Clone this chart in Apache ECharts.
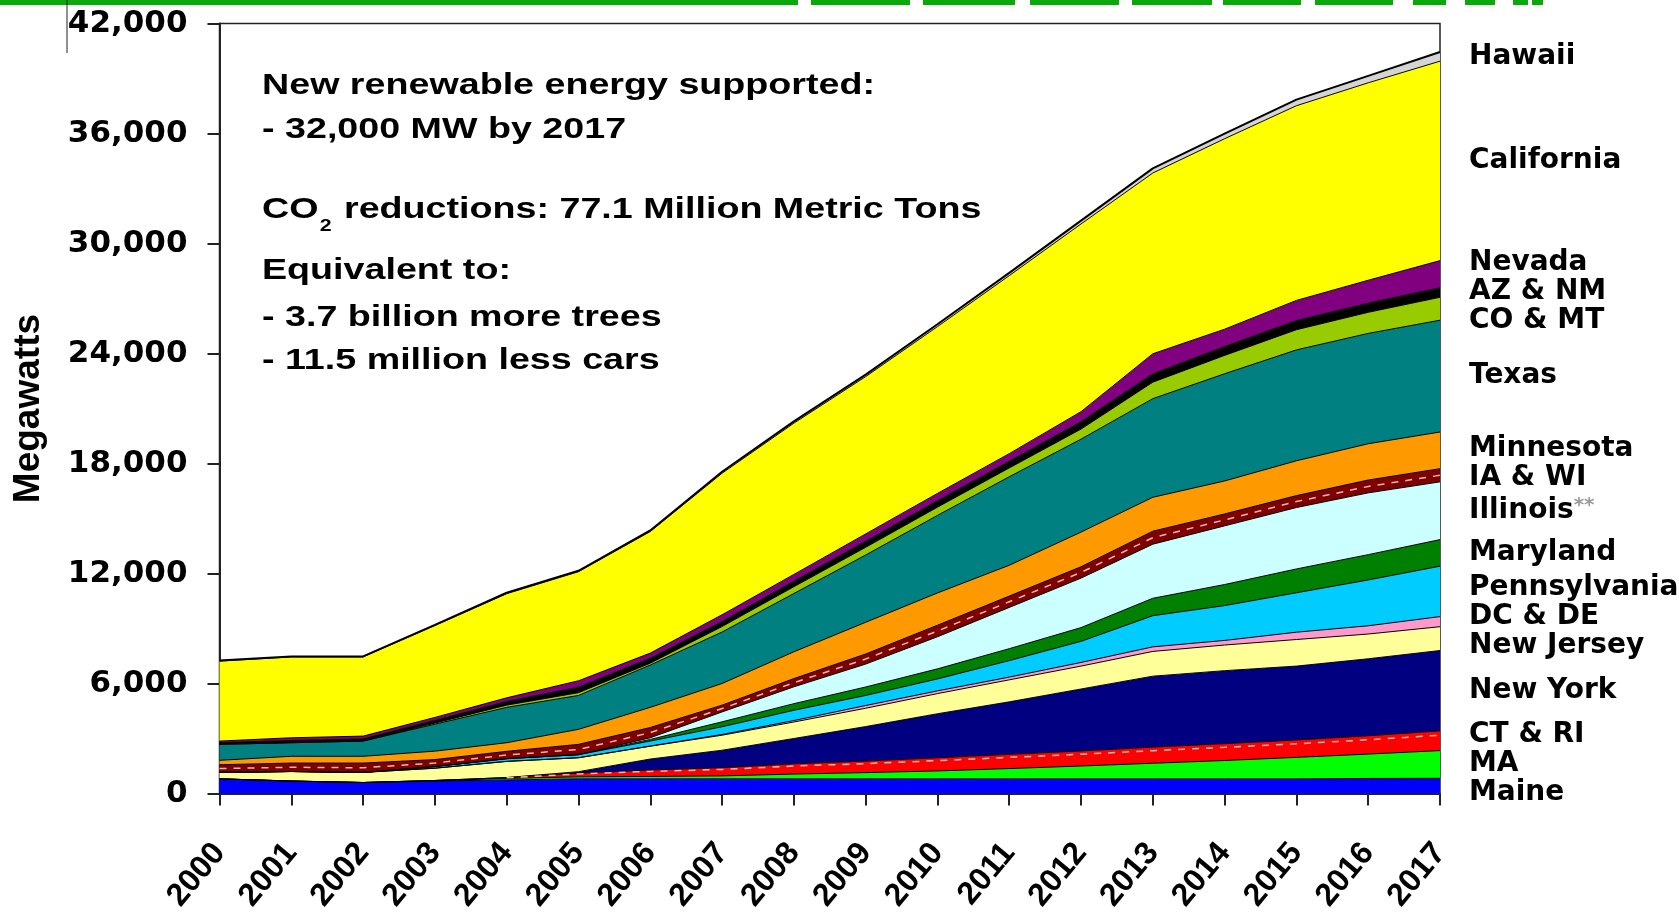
<!DOCTYPE html>
<html>
<head>
<meta charset="utf-8">
<script src="https://cdn.jsdelivr.net/npm/echarts@6/dist/echarts.min.js"></script>
<style>
html,body{margin:0;padding:0;background:#ffffff;}
#chart{width:1679px;height:920px;}
</style>
</head>
<body>
<div id="chart"></div>
<script>
// ---------------- DATA (MW per state, stacked) ----------------
const years = ['2000','2001','2002','2003','2004','2005','2006','2007','2008','2009','2010','2011','2012','2013','2014','2015','2016','2017'];

const maine        = [800,680,600,680,740,800,800,800,800,800,800,800,800,800,800,800,820,830];
const ma           = [0,0,0,30,80,110,130,160,260,340,430,560,700,850,1000,1170,1330,1510];
const ctRi         = [0,0,0,0,50,200,350,450,560,630,720,780,820,880,920,950,1000,1080];
const newYork      = [0,0,0,0,0,80,600,950,1380,1880,2400,2860,3380,3870,3980,4030,4200,4380];
const newJersey    = [350,520,550,670,880,760,700,820,900,1000,1100,1200,1250,1350,1400,1450,1350,1300];
const dcDe         = [0,0,0,0,0,0,10,40,80,150,150,150,200,250,250,400,450,550];
const pennsylvania = [0,0,0,90,150,170,270,420,560,550,650,900,1150,1700,1900,2150,2500,2750];
const maryland     = [0,0,0,0,0,0,90,270,360,460,550,650,750,950,1150,1300,1380,1450];
const illinois     = [0,0,0,0,0,0,90,540,920,1250,1750,2250,2700,2950,3200,3350,3370,3150];
const iaWi         = [420,460,510,380,400,560,560,370,450,550,630,620,620,710,650,650,700,720];
const minnesota    = [240,370,370,460,470,820,1100,1180,1460,1730,1760,1680,1890,1850,1800,1900,1980,2000];
const texas        = [870,740,830,1470,1930,1850,2310,2810,3180,3670,4230,4830,5070,5380,5850,6050,6020,6100];
const coMt         = [0,0,0,60,120,150,100,300,370,420,450,480,550,900,1000,1100,1150,1250];
const azNm         = [100,120,120,150,200,300,270,270,300,330,350,360,400,450,480,500,500,520];
const nevada       = [80,150,150,160,200,350,280,370,370,400,400,420,550,1100,950,1100,1250,1480];
const california   = [4360,4410,4320,5010,5680,5950,6630,7720,8250,8580,9100,9710,10240,9860,10390,10620,10770,10880];
const hawaii       = [30,30,30,40,50,50,60,80,100,110,130,150,180,250,280,330,380,500];

const stateNames = ['Maine','MA','CT & RI','New York','New Jersey','DC & DE','Pennsylvania','Maryland','Illinois**','IA & WI','Minnesota','Texas','CO & MT','AZ & NM','Nevada','California','Hawaii'];
const yMin = 0, yMax = 42000, yStep = 6000;

// ---------------- STYLE / LAYOUT ----------------
const W = 1679, H = 920;
const gridL = 219.5, gridR = 239, gridT = 23.6, gridB = 126.5;
const labelLine = 29; // px between right-hand labels

const layers = [maine, ma, ctRi, newYork, newJersey, dcDe, pennsylvania, maryland, illinois, iaWi, minnesota, texas, coMt, azNm, nevada, california, hawaii];
const colors = ['#0000FF','#00FF00','#FF0000','#000080','#FFFF99','#FF99CC','#00CCFF','#008000','#CCFFFF','#800000','#FF9900','#008080','#99CC00','#000000','#800080','#FFFF00','#D4D4D4'];

const series = layers.map((arr, i) => ({
  name: stateNames[i],
  type: 'line',
  stack: 'total',
  data: arr,
  symbol: 'none',
  smooth: false,
  lineStyle: { color: '#000', width: i === layers.length - 1 ? 2 : 1 },
  areaStyle: { color: colors[i], opacity: 1 },
  itemStyle: { color: colors[i] },
  silent: true,
  z: 2
}));

// light dashed pattern lines inside the IA & WI and CT & RI bands (derived from the data)
const base = years.map((_, k) => 0);
const cumBelow = layers.map(arr => { const b = base.slice(); arr.forEach((v, k) => { base[k] += v; }); return b; });
const dashInside = (idx, frac, col) => ({
  type: 'line', silent: true, symbol: 'none', z: 3,
  data: layers[idx].map((v, k) => v > 0 ? cumBelow[idx][k] + v * frac : null),
  connectNulls: false,
  lineStyle: { color: col, width: 1.5, type: [7, 7] }
});
series.push(dashInside(9, 0.5, '#e8b8b8'));
series.push(dashInside(2, 0.78, '#ffb4b4'));

// label anchors: middle of each band at the last year, spread apart so they do not overlap
const last = years.length - 1;
let cum = 0;
const mids = layers.map(arr => { const lo = cum; cum += arr[last]; return (lo + cum) / 2; });
const plotH = H - gridT - gridB;
const minGap = labelLine * (yMax - yMin) / plotH;
const pos = mids.slice();
for (let it = 0; it < 400; it++) {
  for (let i = 1; i < pos.length; i++) {
    const d = pos[i] - pos[i - 1];
    if (d < minGap) { const p = (minGap - d) / 2; pos[i] += p; pos[i - 1] -= p; }
  }
}
const labelPoints = pos.map((v, i) => ({ name: stateNames[i], value: [years[last], v] }));

series.push({
  type: 'scatter',
  data: labelPoints,
  symbolSize: 0,
  silent: true,
  z: 5,
  itemStyle: { opacity: 1, color: '#000' },
  label: {
    show: true,
    position: 'right',
    distance: 29,
    color: '#000000',
    opacity: 1,
    textBorderWidth: 0,
    fontFamily: 'DejaVu Sans',
    fontWeight: 'bold',
    fontSize: 28,
    lineHeight: labelLine,
    formatter: p => p.name === 'Illinois**' ? '{n|Illinois}{s|**}' : '{n|' + p.name + '}',
    rich: {
      n: { fontFamily: 'DejaVu Sans', fontWeight: 'bold', fontSize: 28, lineHeight: labelLine, color: '#000000' },
      s: { fontFamily: 'DejaVu Sans', fontSize: 20, lineHeight: labelLine, color: '#9a9a9a', verticalAlign: 'top' }
    }
  }
});

const txt = (text, x, y, size) => ({
  type: 'text', x: x, y: y, silent: true,
  style: { text: text, fill: '#000', fontFamily: 'Liberation Sans', fontSize: size, fontWeight: 'bold', align: 'left', verticalAlign: 'middle' }
});

// green slide decoration at the top
const greenSegs = [[0,798],[811,910],[923,1015],[1030,1119],[1132,1212],[1223,1301],[1315,1393],[1413,1446],[1465,1495],[1513,1528],[1532,1543]];
const graphics = greenSegs.map(s => ({
  type: 'rect', silent: true,
  shape: { x: s[0], y: 0, width: s[1] - s[0], height: 5 },
  style: { fill: '#0BA80B' }
}));
graphics.push({ type: 'line', silent: true, shape: { x1: 67, y1: 0, x2: 67, y2: 53 }, style: { stroke: '#222', lineWidth: 1 } });
graphics.push({
  type: 'group', x: 262, y: 2, scaleX: 1.255, z: 10,
  children: [
    txt('New renewable energy supported:', 0, 84, 30),
    txt('- 32,000 MW by 2017', 0, 127.5, 30),
    txt('CO', 0, 207.5, 30),
    txt('2', 46, 224, 17),
    txt(' reductions: 77.1 Million Metric Tons', 57, 207.5, 30),
    txt('Equivalent to:', 0, 268.5, 30),
    txt('- 3.7 billion more trees', 0, 316, 30),
    txt('- 11.5 million less cars', 0, 359, 30)
  ]
});

const chart = echarts.init(document.getElementById('chart'));
chart.setOption({
  animation: false,
  backgroundColor: '#ffffff',
  grid: { left: gridL, right: gridR, top: gridT, bottom: gridB, show: true, borderColor: '#222', borderWidth: 1.5, backgroundColor: 'transparent' },
  xAxis: {
    type: 'category', data: years, boundaryGap: false,
    axisLine: { show: true, lineStyle: { color: '#222', width: 2 } },
    axisTick: { show: true, length: 12, interval: 0, lineStyle: { color: '#222', width: 2 } },
    axisLabel: { interval: 0, rotate: 50, margin: 54, fontFamily: 'Liberation Sans', fontWeight: 'bold', fontSize: 32, color: '#000' },
    splitLine: { show: false }
  },
  yAxis: {
    type: 'value', min: yMin, max: yMax, interval: yStep,
    name: 'Megawatts', nameLocation: 'middle', nameRotate: 90, nameGap: 172,
    nameTextStyle: { fontFamily: 'Liberation Sans', fontWeight: 'bold', fontSize: 37, color: '#000' },
    axisLine: { show: true, lineStyle: { color: '#222', width: 2 } },
    axisTick: { show: true, length: 12, lineStyle: { color: '#222', width: 2 } },
    axisLabel: { margin: 32, fontFamily: 'DejaVu Sans', fontWeight: 'bold', fontSize: 31, color: '#000', formatter: v => v.toLocaleString('en-US') },
    splitLine: { show: false }
  },
  series: series,
  graphic: graphics
});
</script>
</body>
</html>
